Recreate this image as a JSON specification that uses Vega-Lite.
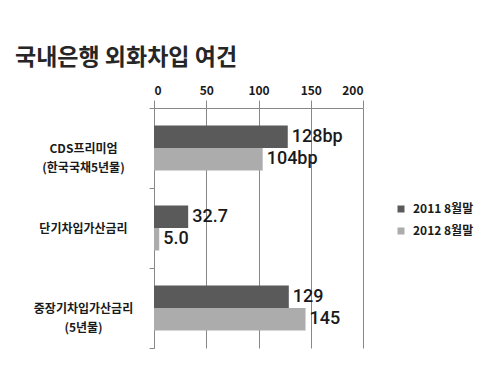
{
  "$schema": "https://vega.github.io/schema/vega-lite/v6.json",
  "autosize": "none",
  "width": 209,
  "height": 240,
  "padding": {"left": 154, "top": 108, "right": 137, "bottom": 24},
  "background": "white",
  "title": {
    "text": "국내은행 외화차입 여건",
    "anchor": "start",
    "frame": "group",
    "dx": -139,
    "dy": -10,
    "font": "Noto Sans CJK KR",
    "fontSize": 23,
    "fontWeight": "bold",
    "color": "#262626"
  },
  "config": {
    "view": {"stroke": null},
    "font": "Noto Sans CJK KR"
  },
  "data": {
    "values": [
      {"item": "CDS프리미엄|(한국국채5년물)", "year": "2011 8월말", "value": 128, "label": "128bp"},
      {"item": "CDS프리미엄|(한국국채5년물)", "year": "2012 8월말", "value": 104, "label": "104bp"},
      {"item": "단기차입가산금리", "year": "2011 8월말", "value": 32.7, "label": "32.7"},
      {"item": "단기차입가산금리", "year": "2012 8월말", "value": 5.0, "label": "5.0"},
      {"item": "중장기차입가산금리|(5년물)", "year": "2011 8월말", "value": 129, "label": "129"},
      {"item": "중장기차입가산금리|(5년물)", "year": "2012 8월말", "value": 145, "label": "145"}
    ]
  },
  "encoding": {
    "y": {
      "field": "item",
      "type": "nominal",
      "sort": null,
      "scale": {"paddingInner": 0, "paddingOuter": 0},
      "axis": {
        "title": null,
        "orient": "left",
        "tickBand": "extent",
        "domainColor": "#888888",
        "tickColor": "#888888",
        "tickSize": 5,
        "labelAlign": "center",
        "labelPadding": 66,
        "labelFont": "Noto Sans CJK KR",
        "labelFontSize": 12,
        "labelFontWeight": "bold",
        "labelColor": "#1a1a1a",
        "labelLineHeight": 19,
        "labelExpr": "split(datum.label, '|')",
        "grid": false
      }
    },
    "yOffset": {
      "field": "year",
      "type": "nominal",
      "scale": {"paddingInner": 0, "paddingOuter": 0.78}
    },
    "x": {
      "field": "value",
      "type": "quantitative",
      "scale": {"domain": [0, 200], "nice": false},
      "axis": {
        "title": null,
        "orient": "top",
        "values": [0, 50, 100, 150, 200],
        "tickSize": 8,
        "tickColor": "#888888",
        "domainColor": "#888888",
        "grid": true,
        "gridColor": "#888888",
        "gridOpacity": 1,
        "labelFont": "Noto Sans CJK KR",
        "labelFontSize": 12,
        "labelFontWeight": "bold",
        "labelColor": "#1a1a1a",
        "labelPadding": 3
      }
    }
  },
  "layer": [
    {
      "mark": {"type": "bar"},
      "encoding": {
        "color": {
          "field": "year",
          "type": "nominal",
          "scale": {"range": ["#5a5a5a", "#acacac"]},
          "legend": {
            "title": null,
            "orient": "none",
            "legendX": 241,
            "legendY": 95,
            "symbolType": "square",
            "symbolSize": 49,
            "symbolStrokeWidth": 0,
            "labelFont": "Noto Sans CJK KR",
            "labelFontSize": 12,
            "labelFontWeight": "bold",
            "labelColor": "#1a1a1a",
            "labelOffset": 6,
            "rowPadding": 10
          }
        }
      }
    },
    {
      "mark": {
        "type": "text",
        "align": "left",
        "baseline": "middle",
        "dx": 4,
        "font": "Roboto",
        "fontSize": 18,
        "fontWeight": 500,
        "color": "#1a1a1a"
      },
      "encoding": {
        "text": {"field": "label"}
      }
    }
  ]
}
